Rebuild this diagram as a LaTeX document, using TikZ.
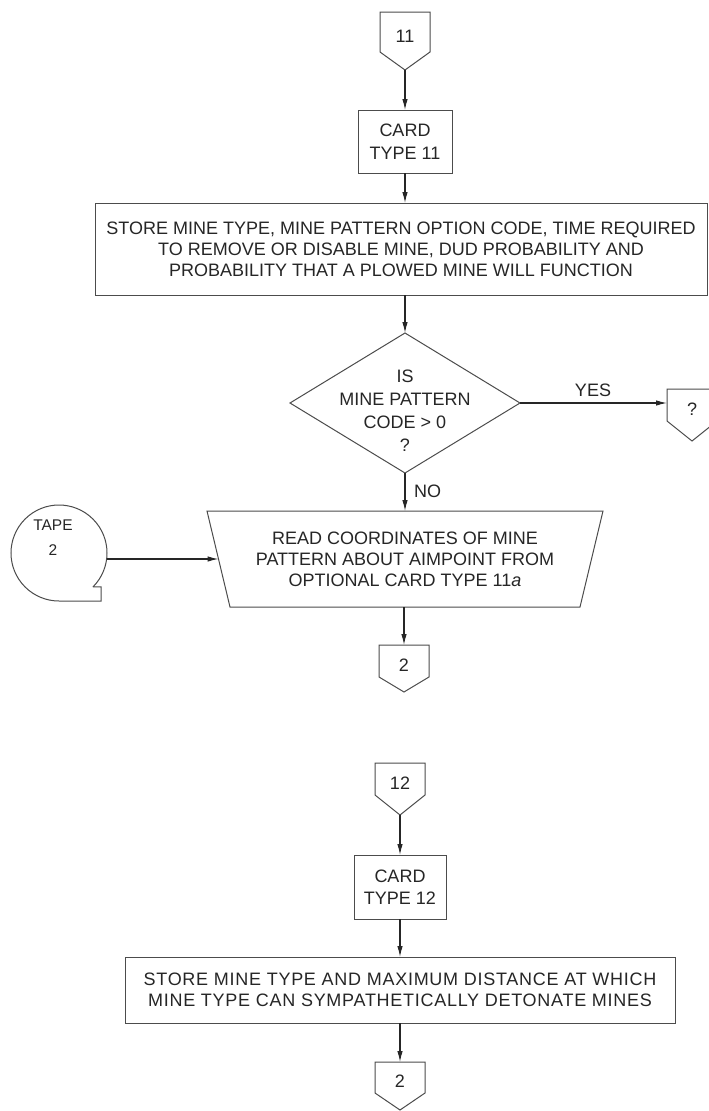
\documentclass[tikz,border=0pt]{standalone}
\usepackage{fontspec}
\newfontfamily\lett{Liberation Sans}
\newfontfamily\lettwide[LetterSpace=4]{Liberation Sans}
\usetikzlibrary{arrows.meta,shapes.geometric}

\tikzset{
  ln/.style={draw=black!70, line width=1pt},
  txt/.style={font=\lett\fontsize{18}{21}\selectfont, align=center, text=black!85, inner sep=0pt},
  boxed/.style={ln, rectangle, inner sep=0pt, outer sep=0pt},
  flow/.style={draw=black!85, line width=1.1pt, -{Latex[length=11pt,width=5.5pt]}},
}

% off-page connector: name, centre x, top y, side bottom y, tip y, label
\newcommand\offpage[6]{%
  \draw[ln] (#2-25,#3) -- (#2+25,#3) -- (#2+25,#4) -- (#2,#5) -- (#2-25,#4) -- cycle;
  \coordinate (#1-top) at (#2,#3);
  \coordinate (#1-nw) at (#2-25,#3);
  \coordinate (#1-tip) at (#2,#5);
  \node[txt] (#1) at (#2,{(#3+#4)/2+4}) {#6};
}

\begin{document}
\begin{tikzpicture}[x=1pt,y=-1pt]
\fill[white] (0,0) rectangle (709,1111);
\useasboundingbox (0,0) rectangle (709,1111);
\clip (0,0) rectangle (709,1111);

% ---------- card type 11 ----------
\offpage{c11}{405}{12}{52}{70}{11}
\node[boxed, txt, minimum width=94pt, minimum height=63pt, font=\lett\fontsize{18}{23}\selectfont]
  (card11) at (405,141.5) {CARD\\TYPE 11};
\node[boxed, txt, minimum width=612pt, minimum height=92pt]
  (store11) at (401,249) {STORE MINE TYPE, MINE PATTERN OPTION CODE, TIME REQUIRED\\
  TO REMOVE OR DISABLE MINE, DUD PROBABILITY AND\\
  PROBABILITY THAT A PLOWED MINE WILL FUNCTION};

% decision
\node[ln, diamond, minimum width=230pt, minimum height=140pt, inner sep=0pt, outer sep=0pt]
  (dec) at (405,403) {};
\node[txt, font=\lett\fontsize{18}{23}\selectfont] (dectext) at (405,411)
  {IS\\MINE PATTERN\\CODE > 0\\?};
\offpage{cR}{692}{389}{421}{441}{?}
\node[txt] (yes) at (593,390) {YES};
\node[txt, anchor=west] (no) at (414,491) {NO};

% manual input of the optional card
\coordinate (tTL) at (207,511);
\coordinate (tTR) at (603,511);
\coordinate (tBR) at (580,607);
\coordinate (tBL) at (230,607);
\coordinate (tTop) at (405,511);
\coordinate (tBot) at (404,607);
\coordinate (tIn) at (218.5,559);
\draw[ln] (tTL) -- (tTR) -- (tBR) -- (tBL) -- cycle;
\node[txt] (read) at (405,559)
  {READ COORDINATES OF MINE\\PATTERN ABOUT AIMPOINT FROM\\OPTIONAL CARD TYPE 11\textit{a}};

% tape
\node[circle, minimum size=96pt, inner sep=0pt, outer sep=0pt] (tape) at (59,553) {};
\draw[ln] (tape.-45) arc[start angle=-45, end angle=270, radius=48pt]
  -- ++(42pt,0pt) |- (tape.-45);
\node[txt, font=\lett\fontsize{15.5}{25}\selectfont] (tapetxt) at (53,538) {TAPE\\2};

\offpage{c2a}{404}{645}{677}{692}{2}

% flow, upper chart
\draw[flow] (c11-tip) -- (card11.north);
\draw[flow] (card11.south) -- (card11.south |- store11.north);
\draw[flow] (store11.south -| dec.north) -- (dec.north);
\draw[flow] (dec.east) -- (dec.east -| cR-nw);
\draw[flow] (dec.south) -- (tTop);
\draw[flow] (tape.east |- tIn) -- (tIn);
\draw[flow] (tBot) -- (c2a-top);

% ---------- card type 12 ----------
\offpage{c12}{400}{763}{795}{815}{12}
\node[boxed, txt, minimum width=92pt, minimum height=64pt, font=\lett\fontsize{18}{22}\selectfont]
  (card12) at (400,887) {CARD\\TYPE 12};
\node[boxed, txt, minimum width=550pt, minimum height=66pt, font=\lettwide\fontsize{18}{21}\selectfont]
  (store12) at (400,990) {STORE MINE TYPE AND MAXIMUM DISTANCE AT WHICH\\
  MINE TYPE CAN SYMPATHETICALLY DETONATE MINES};
\offpage{c2b}{400}{1062}{1093}{1110}{2}

\draw[flow] (c12-tip) -- (card12.north);
\draw[flow] (card12.south) -- (store12.north);
\draw[flow] (store12.south) -- (c2b-top);
\end{tikzpicture}
\end{document}
